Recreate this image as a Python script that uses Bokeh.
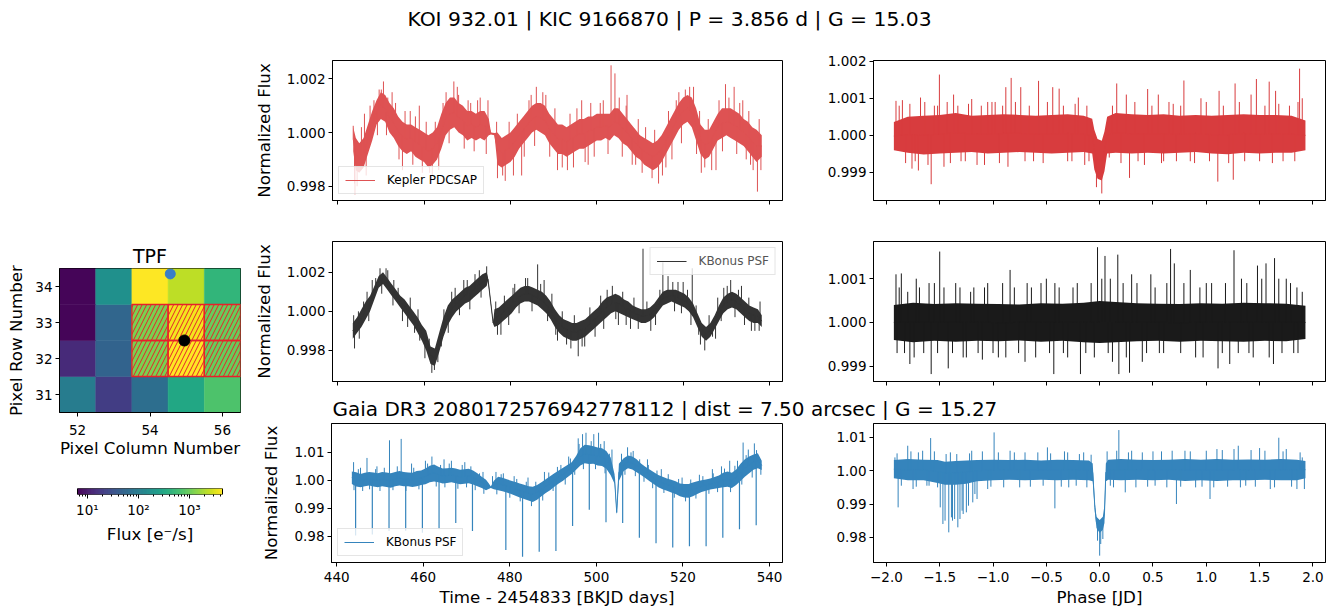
import numpy as np
from bokeh.plotting import figure
from bokeh.layouts import row, column
from bokeh.models import (Range1d, FixedTicker, PrintfTickFormatter, CustomJSTickFormatter,
                          Legend, LegendItem, ColumnDataSource, Spacer)
from bokeh.transform import log_cmap
from bokeh.palettes import Viridis256
from bokeh.core.properties import value
from bokeh.embed import file_html
from bokeh.resources import INLINE

FONT = "DejaVu Sans"

# ---------------- texts ----------------
MAIN_TITLE = "KOI 932.01 | KIC 9166870 | P = 3.856 d | G = 15.03"
GAIA_TITLE = "Gaia DR3 2080172576942778112 | dist = 7.50 arcsec | G = 15.27"

# ---------------- TPF ----------------
tpf_cols = [52, 53, 54, 55, 56]
tpf_rows = [31, 32, 33, 34]
tpf_flux = [
    [100, 21, 68, 320, 710],      # row 31
    [14, 51, 1200, 4400, 980],    # row 32
    [7, 55, 1200, 4000, 980],     # row 33
    [7, 170, 4400, 2300, 480],    # row 34
]
aperture_cols = [54, 55, 56, 54, 55, 56]
aperture_rows = [32, 32, 32, 33, 33, 33]
target_col = [54.95]
target_row = [32.50]
gaia_col = [54.56]
gaia_row = [34.35]
flux_low, flux_high = 6.4, 4436.0
cbar_major = [10, 100, 1000]
cbar_minor = [7, 8, 9, 20, 30, 40, 50, 60, 70, 80, 90,
              200, 300, 400, 500, 600, 700, 800, 900, 2000, 3000, 4000]

# ---------------- Kepler PDCSAP (time) ----------------
t_pdc = [443.6, 444.2, 445.0, 446.0, 447.0, 448.0, 449.0, 450.0, 451.0, 452.0,
         453.0, 454.0, 455.0, 456.0, 457.0, 458.0, 459.0, 460.0, 461.0, 462.0,
         463.0, 464.0, 465.0, 466.0, 467.0, 468.0, 469.0, 470.0, 471.0, 472.0,
         473.0, 474.0, 475.0, 475.5, 476.3, 477.0, 478.0, 479.0, 480.0, 481.0,
         482.0, 483.0, 484.0, 485.0, 486.0, 487.0, 488.0, 489.0, 490.0, 491.0,
         492.0, 493.0, 494.0, 495.0, 496.0, 497.0, 498.0, 499.0, 500.0, 501.0,
         502.0, 503.0, 504.0, 505.0, 506.0, 507.0, 508.0, 509.0, 510.0, 511.0,
         512.0, 513.0, 514.0, 515.0, 516.0, 517.0, 518.0, 519.0, 520.0, 521.0,
         522.0, 523.0, 524.0, 525.0, 526.0, 527.0, 528.0, 529.0, 530.0, 531.0,
         532.0, 533.0, 534.0, 535.0, 536.0, 537.0, 538.2]
lo_pdc = [0.9993, 0.9986, 0.9985, 0.9987, 0.9992, 0.9997, 1.0003, 1.0005, 1.0004, 1.0000,
          0.9998, 0.9995, 0.9993, 0.9992, 0.9993, 0.9991, 0.9990, 0.9989, 0.9987, 0.9988,
          0.9990, 0.9994, 0.9999, 1.0001, 1.0002, 1.0000, 0.9999, 0.9997, 0.9998, 0.9997,
          0.9998, 0.9997, 0.9999, 0.99993, 0.99990, 0.9988, 0.9987, 0.9988, 0.9989, 0.9991,
          0.9994, 0.9996, 0.9998, 1.0000, 1.0001, 1.0000, 0.9999, 0.9996, 0.9994, 0.9992,
          0.9992, 0.9991, 0.9992, 0.9993, 0.9994, 0.9994, 0.9995, 0.9996, 0.9997, 0.9997,
          0.9998, 0.9997, 0.9999, 0.9998, 0.9996, 0.9995, 0.9993, 0.9991, 0.9990, 0.9988,
          0.9987, 0.9986, 0.9987, 0.9989, 0.9992, 0.9995, 0.9998, 1.0001, 1.0003, 1.0004,
          1.0002, 0.9997, 0.9992, 0.9990, 0.9991, 0.9994, 0.9997, 0.9998, 0.9999, 0.9998,
          0.9997, 0.9996, 0.9995, 0.9993, 0.9991, 0.9989, 0.9991]
hi_pdc = [1.0002, 0.9998, 0.9996, 0.9998, 1.0003, 1.0008, 1.0012, 1.0015, 1.0014, 1.0011,
          1.0009, 1.0006, 1.0004, 1.0003, 1.0003, 1.0002, 1.0001, 1.0000, 0.9999, 1.0000,
          1.0002, 1.0007, 1.0011, 1.0013, 1.0013, 1.0011, 1.0010, 1.0008, 1.0008, 1.0007,
          1.0008, 1.0008, 1.0005, 1.00000, 0.99998, 1.0000, 0.9998, 0.9999, 1.0000, 1.0002,
          1.0004, 1.0006, 1.0008, 1.0010, 1.0011, 1.0011, 1.0010, 1.0007, 1.0005, 1.0003,
          1.0003, 1.0002, 1.0003, 1.0004, 1.0005, 1.0005, 1.0006, 1.0006, 1.0007, 1.0007,
          1.0007, 1.0007, 1.0009, 1.0009, 1.0007, 1.0005, 1.0003, 1.0001, 0.9999, 0.9998,
          0.9997, 0.9996, 0.9997, 0.9999, 1.0002, 1.0005, 1.0008, 1.0011, 1.0013, 1.0014,
          1.0013, 1.0009, 1.0003, 1.0001, 1.0001, 1.0004, 1.0007, 1.0009, 1.0009, 1.0009,
          1.0008, 1.0007, 1.0005, 1.0004, 1.0002, 1.0001, 0.9999]
spk_t_pdc = [443.6, 444.0, 444.5, 446.2, 447.5, 449.6, 450.1, 451.6, 453.4, 455.0,
             456.8, 458.9, 461.3, 461.9, 464.4, 466.9, 468.0, 470.8, 473.0, 477.0,
             478.2, 482.6, 484.3, 486.0, 487.5, 490.9, 493.2, 496.5, 498.0, 500.8,
             503.3, 504.2, 507.0, 509.0, 512.8, 514.3, 516.0, 519.0, 520.5, 521.5,
             524.2, 525.0, 527.6, 529.8, 531.8, 533.8, 535.6, 537.2]
spk_f_pdc = [1.00025, 0.9977, 0.9980, 1.0007, 1.0010, 1.0016, 1.0016, 1.0013, 1.0011, 0.9986,
             1.0008, 1.0010, 0.9985, 0.9984, 1.0011, 1.0019, 1.0014, 1.0011, 1.0013, 0.9983,
             0.9984, 0.9984, 1.0012, 1.0017, 1.0015, 0.9986, 0.9986, 1.0012, 0.9988, 1.0011,
             1.0025, 1.0022, 1.0014, 0.9988, 0.9983, 0.9981, 0.9987, 1.0015, 1.0016, 1.0017,
             0.9985, 0.9987, 0.9986, 1.0018, 1.0017, 1.0012, 0.9988, 0.9978]
small_spk_pdc = [(443.9, 0.9981), (445.5, 1.0002), (446.6, 0.9984), (448.4, 1.0012), (449.2, 0.9999),
                 (450.6, 1.0019), (451.3, 0.9999), (452.6, 1.0015), (454.2, 0.9990), (455.6, 1.0008),
                 (457.4, 0.9988), (458.0, 1.0006), (459.6, 0.9985), (460.5, 1.0004), (462.6, 1.0004),
                 (463.4, 0.9986), (465.1, 1.0015), (465.8, 0.9996), (467.7, 1.0017), (469.3, 0.9994),
                 (470.2, 1.0012), (471.6, 0.9993), (472.4, 1.0012), (474.4, 0.9992), (474.8, 1.0012),
                 (476.8, 1.0004), (478.8, 0.9982), (479.7, 1.0004), (480.7, 0.9984), (481.6, 1.0007),
                 (483.2, 0.9991), (484.8, 1.0014), (485.6, 0.9995), (488.2, 1.0014), (489.1, 0.9991),
                 (490.3, 1.0009), (492.0, 0.9987), (493.8, 1.0007), (494.6, 0.9987), (495.4, 1.0009),
                 (497.3, 0.9989), (498.6, 1.0011), (499.4, 0.9991), (501.5, 1.0012), (502.6, 0.9992),
                 (505.2, 1.0013), (505.9, 0.9991), (506.8, 1.0010), (508.2, 0.9988), (509.6, 1.0005),
                 (510.5, 0.9985), (511.3, 1.0002), (513.4, 1.0001), (515.2, 0.9984), (516.6, 1.0008),
                 (517.4, 0.9990), (518.4, 1.0012), (519.6, 0.9996), (522.4, 1.0017), (523.1, 0.9992),
                 (523.8, 1.0008), (525.8, 1.0005), (526.6, 0.9986), (528.3, 1.0012), (529.1, 0.9993),
                 (530.6, 1.0013), (532.4, 0.9992), (533.1, 1.0011), (534.6, 0.9990), (535.2, 1.0008),
                 (536.2, 0.9986), (537.6, 1.0005), (538.0, 0.9986)]

# ---------------- KBonus PSF, target (time) ----------------
t_psf = [443.5, 444.5, 445.5, 446.5, 447.5, 448.5, 449.5, 450.5, 451.5, 452.5,
         453.5, 454.5, 455.5, 456.5, 457.5, 458.5, 459.5, 460.5, 461.5, 462.5,
         463.5, 464.5, 465.5, 466.5, 467.5, 468.5, 469.5, 470.5, 471.5, 472.5,
         473.5, 474.5, 474.8, 476.0, 476.3, 477.3, 478.3, 479.3, 480.3, 481.3,
         482.3, 483.3, 484.3, 485.3, 486.3, 487.3, 488.3, 489.3, 490.3, 491.3,
         492.3, 493.3, 494.3, 495.3, 496.3, 497.3, 498.3, 499.3, 500.3, 501.3,
         502.3, 503.3, 504.3, 505.3, 506.3, 507.3, 508.3, 509.3, 510.3, 511.3,
         512.3, 513.3, 514.3, 515.3, 516.3, 517.3, 518.3, 519.3, 520.3, 521.3,
         522.3, 523.3, 524.3, 525.3, 526.3, 527.3, 528.3, 529.3, 530.3, 531.3,
         532.3, 533.3, 534.3, 535.3, 536.3, 537.3, 538.2]
lo_psf = [0.9986, 0.9989, 0.9992, 0.9996, 1.0000, 1.0006, 1.0012, 1.0014, 1.0011, 1.0008,
          1.0005, 1.0002, 0.9999, 0.9996, 0.9993, 0.9989, 0.9985, 0.9980, 0.9973, 0.9972,
          0.9979, 0.9987, 0.9993, 0.9997, 1.0000, 1.0002, 1.0004, 1.0005, 1.0007, 1.0009,
          1.0011, 1.0013, 1.00155, 0.99935, 0.9992, 0.9993, 0.9995, 0.9997, 0.9999, 1.0002,
          1.0004, 1.0005, 1.0005, 1.0004, 1.0003, 1.0001, 0.9999, 0.9996, 0.9992, 0.9989,
          0.9987, 0.9986, 0.9985, 0.9985, 0.9986, 0.9987, 0.9989, 0.9991, 0.9993, 0.9995,
          0.9997, 0.9999, 1.0000, 0.9999, 0.9998, 0.9997, 0.9996, 0.9995, 0.9994, 0.9994,
          0.9995, 0.9997, 1.0000, 1.0003, 1.0004, 1.0005, 1.0004, 1.0003, 1.0002, 1.0000,
          0.9997, 0.9992, 0.9987, 0.9985, 0.9987, 0.9991, 0.9995, 0.9999, 1.0001, 1.0002,
          1.0001, 0.9999, 0.9997, 0.9995, 0.9994, 0.9994, 0.9992]
hi_psf = [0.9994, 0.9997, 1.0001, 1.0005, 1.0008, 1.0013, 1.0018, 1.0020, 1.0017, 1.0014,
          1.0011, 1.0008, 1.0006, 1.0003, 1.0000, 0.9997, 0.9993, 0.9990, 0.9982, 0.9981,
          0.9989, 0.9997, 1.0003, 1.0006, 1.0008, 1.0010, 1.0012, 1.0013, 1.0015, 1.0017,
          1.0019, 1.0020, 1.00175, 0.99945, 1.0001, 1.0002, 1.0004, 1.0006, 1.0008, 1.0010,
          1.0012, 1.0013, 1.0013, 1.0012, 1.0011, 1.0010, 1.0008, 1.0005, 1.0001, 0.9998,
          0.9996, 0.9995, 0.9994, 0.9994, 0.9995, 0.9996, 0.9998, 1.0000, 1.0002, 1.0005,
          1.0007, 1.0008, 1.0009, 1.0008, 1.0006, 1.0005, 1.0003, 1.0002, 1.0001, 1.0001,
          1.0002, 1.0004, 1.0007, 1.0010, 1.0011, 1.0011, 1.0011, 1.0010, 1.0009, 1.0007,
          1.0004, 0.9999, 0.9994, 0.9992, 0.9994, 0.9998, 1.0003, 1.0007, 1.0009, 1.0010,
          1.0009, 1.0007, 1.0005, 1.0003, 1.0002, 1.0001, 0.9998]
spk_t_psf = [443.9, 444.8, 446.8, 448.0, 449.8, 451.2, 453.0, 456.2, 459.0, 461.8,
             462.4, 464.0, 467.2, 470.0, 472.8, 474.5, 477.8, 480.6, 483.5, 486.3,
             487.8, 490.5, 493.0, 495.7, 497.2, 500.9, 502.4, 505.0, 507.8, 510.7,
             512.5, 515.3, 516.5, 518.8, 520.0, 522.1, 523.6, 525.0, 527.5, 529.4,
             531.0, 533.5, 535.8, 537.6]
spk_f_psf = [0.9981, 1.0000, 1.0010, 1.0016, 1.0022, 1.0022, 1.0016, 0.9992, 0.9985, 0.99685,
             0.9970, 0.9982, 1.0012, 1.0016, 1.0021, 1.0023, 0.9988, 1.0012, 1.0017, 1.0024,
             1.0016, 0.9988, 0.9983, 0.9977, 0.9982, 1.0008, 1.0011, 0.9993, 0.9991, 1.0032,
             0.9990, 1.0025, 1.0018, 1.0015, 1.0015, 1.0022, 0.9988, 0.9980, 0.9986, 1.0012,
             1.0016, 1.0013, 0.9990, 0.9990]
small_spk_psf = [(443.7, 0.9998), (445.0, 0.9986), (446.0, 1.0005), (447.2, 0.9995), (448.8, 1.0017),
                 (450.2, 1.0009), (451.6, 1.0021), (452.8, 1.0003), (454.0, 1.0012), (455.0, 0.9995),
                 (456.8, 1.0007), (457.8, 0.9989), (458.6, 1.0001), (460.2, 0.9976), (461.2, 0.9986),
                 (463.2, 0.9974), (464.6, 1.0001), (465.6, 0.9989), (466.4, 1.0010), (468.2, 0.9998),
                 (469.2, 1.0016), (470.6, 1.0001), (471.8, 1.0019), (473.2, 1.0007), (476.6, 1.0005),
                 (477.0, 0.9988), (478.6, 1.0008), (479.6, 0.9993), (481.0, 1.0014), (482.0, 0.9999),
                 (484.0, 1.0017), (485.0, 1.0000), (487.0, 1.0014), (488.6, 0.9995), (489.6, 1.0009),
                 (490.9, 0.9985), (492.0, 1.0000), (494.0, 0.9981), (494.8, 0.9998), (496.6, 0.9982),
                 (498.4, 1.0002), (499.6, 0.9987), (501.6, 0.9991), (503.6, 1.0013), (504.4, 0.9996),
                 (506.0, 1.0010), (506.8, 0.9993), (508.6, 1.0007), (509.6, 0.9991), (511.6, 1.0005),
                 (513.6, 0.9993), (514.6, 1.0011), (517.6, 1.0015), (518.0, 1.0000), (519.6, 0.9999),
                 (521.0, 1.0011), (521.8, 0.9993), (523.0, 1.0003), (524.0, 0.9983), (526.0, 0.9998),
                 (526.8, 0.9987), (528.0, 1.0007), (528.8, 0.9995), (530.2, 1.0013), (532.0, 0.9997),
                 (532.8, 1.0011), (534.2, 0.9993), (535.2, 1.0007), (536.6, 0.9990), (537.8, 1.0005)]

# ---------------- KBonus PSF, Gaia neighbour (time) ----------------
t_gaia = [443.5, 444.5, 445.5, 446.5, 447.5, 448.5, 449.5, 450.5, 451.5, 452.5,
          453.5, 454.5, 455.5, 456.5, 457.5, 458.5, 459.5, 460.5, 461.5, 462.5,
          463.5, 464.5, 465.5, 466.5, 467.5, 468.5, 469.5, 470.5, 471.5, 472.5,
          473.5, 474.5, 475.2, 475.6, 476.3, 477.3, 478.3, 479.3, 480.3, 481.3,
          482.3, 483.3, 484.3, 485.3, 486.3, 487.3, 488.3, 489.3, 490.3, 491.3,
          492.3, 493.3, 494.3, 495.3, 496.3, 497.3, 498.3, 499.3, 500.3, 501.3,
          502.3, 503.3, 504.2, 504.7, 505.2, 506.3, 507.3, 508.3, 509.3, 510.3,
          511.3, 512.3, 513.3, 514.3, 515.3, 516.3, 517.3, 518.3, 519.3, 520.3,
          521.3, 522.3, 523.3, 524.3, 525.3, 526.3, 527.3, 528.3, 529.3, 530.3,
          531.3, 532.3, 533.3, 534.3, 535.3, 536.3, 537.3, 538.2]
lo_gaia = [0.9987, 0.9978, 0.9975, 0.9979, 0.9982, 0.9978, 0.9975, 0.9979, 0.9976, 0.9974,
           0.9979, 0.9982, 0.9979, 0.9979, 0.9976, 0.9979, 0.9983, 0.9986, 0.9993, 0.9996,
           0.9993, 0.9989, 0.9991, 0.9993, 0.9990, 0.9986, 0.9988, 0.9990, 0.9985, 0.9979,
           0.9973, 0.9965, 0.9970, 0.9973, 0.9968, 0.9965, 0.9961, 0.9957, 0.9951, 0.9945,
           0.9939, 0.9933, 0.9928, 0.9923, 0.9931, 0.9943, 0.9955, 0.9965, 0.9977, 0.9989,
           0.9999, 1.0011, 1.0023, 1.0038, 1.0053, 1.0061, 1.0058, 1.0059, 1.0053, 1.0051,
           1.0041, 1.0018, 0.9988, 0.9877, 0.9998, 1.0033, 1.0043, 1.0039, 1.0029, 1.0019,
           1.0008, 0.9997, 0.9986, 0.9975, 0.9968, 0.9963, 0.9957, 0.9951, 0.9943, 0.9939,
           0.9938, 0.9943, 0.9951, 0.9958, 0.9963, 0.9967, 0.9970, 0.9973, 0.9975, 0.9977,
           0.9973, 0.9983, 0.9998, 1.0013, 1.0025, 1.0038, 1.0043, 1.0037]
hi_gaia = [1.0032, 1.0029, 1.0023, 1.0027, 1.0030, 1.0028, 1.0025, 1.0030, 1.0028, 1.0025,
           1.0030, 1.0033, 1.0030, 1.0028, 1.0027, 1.0033, 1.0035, 1.0042, 1.0052, 1.0057,
           1.0049, 1.0042, 1.0043, 1.0045, 1.0042, 1.0038, 1.0040, 1.0041, 1.0035, 1.0025,
           1.0013, 1.0002, 0.9988, 0.9978, 0.9999, 1.0013, 1.0009, 1.0004, 0.9999, 0.9994,
           0.9989, 0.9984, 0.9979, 0.9977, 0.9983, 0.9993, 1.0004, 1.0015, 1.0025, 1.0035,
           1.0045, 1.0055, 1.0065, 1.0087, 1.0115, 1.0127, 1.0125, 1.0122, 1.0117, 1.0115,
           1.0105, 1.0082, 1.0022, 0.9893, 1.0059, 1.0079, 1.0089, 1.0085, 1.0075, 1.0060,
           1.0049, 1.0039, 1.0029, 1.0019, 1.0013, 1.0007, 1.0002, 0.9997, 0.9989, 0.9987,
           0.9987, 0.9992, 0.9997, 1.0000, 1.0003, 1.0007, 1.0012, 1.0017, 1.0027, 1.0032,
           1.0027, 1.0039, 1.0059, 1.0075, 1.0085, 1.0092, 1.0097, 1.0070]
dip_t_gaia = [444.37, 448.23, 452.09, 455.94, 459.80, 463.65, 467.51, 471.37, 479.08, 482.94,
              486.79, 490.65, 494.50, 498.36, 502.22, 506.07, 509.93, 513.78, 517.64, 521.50,
              525.35, 529.21, 533.06, 536.92]
dip_f_gaia = [0.9803, 0.9807, 0.9819, 0.9820, 0.9813, 0.9825, 0.9848, 0.9819, 0.9751, 0.9727,
              0.9745, 0.9748, 0.9837, 0.9895, 0.9850, 0.9848, 0.9795, 0.9775, 0.9760, 0.9765,
              0.9765, 0.9795, 0.9825, 0.9840]
spk_t_gaia = [443.9, 445.5, 447.0, 449.3, 452.2, 454.9, 457.3, 460.5, 462.0, 464.8,
              466.5, 469.6, 473.8, 476.8, 478.5, 481.0, 484.2, 488.0, 491.8, 493.6,
              495.8, 496.8, 497.6, 499.4, 500.5, 501.8, 503.6, 507.2, 508.5, 511.8,
              515.0, 519.8, 523.8, 526.8, 528.9, 530.8, 532.6, 533.9, 535.1, 536.5]
spk_f_gaia = [1.0065, 1.0045, 1.0080, 1.0050, 1.0143, 1.0148, 1.0060, 1.0070, 1.0085, 1.0075,
              1.0070, 1.0065, 1.0030, 1.0030, 1.0025, 1.0015, 1.0010, 1.0030, 1.0055, 1.0085,
              1.0150, 1.0165, 1.0170, 1.0165, 1.0170, 1.0140, 1.0110, 1.0118, 1.0105, 1.0075,
              1.0040, 1.0010, 1.0020, 1.0040, 1.0050, 1.0070, 1.0070, 1.0135, 1.0110, 1.0132]
small_spk_gaia = [(444.0, 0.9965), (445.0, 1.0040), (446.0, 0.9962), (447.6, 0.9968), (449.0, 1.0040),
                  (450.0, 0.9962), (451.0, 1.0045), (453.0, 0.9965), (454.0, 1.0050), (456.0, 0.9962),
                  (457.8, 1.0045), (459.0, 0.9968), (461.0, 1.0060), (463.0, 0.9978), (464.0, 1.0055),
                  (465.0, 0.9975), (466.0, 1.0060), (468.0, 0.9970), (469.0, 1.0055), (470.0, 0.9975),
                  (471.0, 1.0050), (472.0, 0.9965), (473.0, 1.0025), (474.0, 0.9952), (476.0, 1.0015),
                  (477.0, 0.9950), (478.0, 1.0022), (480.0, 0.9938), (481.6, 1.0005), (482.4, 0.9925),
                  (483.8, 0.9995), (485.0, 0.9908), (486.0, 0.9995), (487.6, 0.9928), (489.0, 1.0028),
                  (490.0, 0.9962), (491.0, 1.0048), (492.8, 0.9985), (494.0, 1.0078), (495.0, 1.0020),
                  (496.0, 1.0130), (497.0, 1.0040), (498.8, 1.0140), (499.8, 1.0040), (501.0, 1.0130),
                  (502.0, 1.0025), (503.0, 1.0095), (505.8, 1.0095), (506.6, 1.0020), (508.0, 1.0100),
                  (509.0, 1.0015), (510.0, 1.0075), (511.0, 0.9995), (512.0, 1.0055), (513.0, 0.9972),
                  (514.0, 1.0035), (515.6, 0.9955), (516.6, 1.0022), (518.0, 0.9938), (519.0, 1.0005),
                  (520.6, 0.9925), (521.8, 1.0003), (523.0, 0.9935), (524.6, 1.0015), (526.0, 0.9952),
                  (527.0, 1.0025), (528.0, 0.9958), (529.6, 1.0042), (531.0, 0.9958), (532.0, 1.0052),
                  (533.6, 0.9985), (534.6, 1.0090), (536.0, 1.0010), (537.0, 1.0108), (538.0, 1.0020)]

# ---------------- phase-folded: Kepler PDCSAP ----------------
ph_pdc = [-1.93, -1.80, -1.65, -1.50, -1.35, -1.20, -1.05, -0.90, -0.75, -0.60,
          -0.45, -0.30, -0.15, -0.07, -0.05, -0.02, 0.02, 0.045, 0.07, 0.15,
          0.30, 0.45, 0.60, 0.75, 0.90, 1.05, 1.20, 1.35, 1.50, 1.65, 1.80, 1.93]
ph_lo_pdc = [0.99960, 0.99953, 0.99948, 0.99951, 0.99953, 0.99955, 0.99951, 0.99953, 0.99955, 0.99953,
             0.99951, 0.99953, 0.99955, 0.99951, 0.99908, 0.99883, 0.99878, 0.99903, 0.99951, 0.99953,
             0.99951, 0.99953, 0.99951, 0.99953, 0.99955, 0.99951, 0.99949, 0.99953, 0.99951, 0.99953,
             0.99953, 0.99960]
ph_hi_pdc = [1.00036, 1.00050, 1.00053, 1.00055, 1.00060, 1.00053, 1.00055, 1.00057, 1.00055, 1.00053,
             1.00055, 1.00057, 1.00053, 1.00045, 1.00015, 0.99990, 0.99985, 1.00010, 1.00050, 1.00060,
             1.00057, 1.00055, 1.00057, 1.00053, 1.00055, 1.00053, 1.00055, 1.00057, 1.00055, 1.00055,
             1.00053, 1.00040]
pspk_x_pdc = [-1.91, -1.85, -1.76, -1.70, -1.68, -1.58, -1.55, -1.503, -1.46, -1.37,
              -1.30, -1.20, -1.15, -1.05, -0.98, -0.88, -0.86, -0.83, -0.74, -0.62,
              -0.573, -0.44, -0.38, -0.30, -0.20, -0.10, -0.03, 0.02, 0.16, 0.25,
              0.28, 0.42, 0.45, 0.55, 0.60, 0.65, 0.79, 0.85, 0.95, 1.108,
              1.12, 1.253, 1.27, 1.42, 1.47, 1.50, 1.59, 1.65, 1.72, 1.875, 1.90]
pspk_f_pdc = [1.00093, 1.00095, 0.99910, 0.99905, 1.00102, 0.99868, 1.00080, 1.00164, 0.99915, 1.00110,
              0.99930, 1.00098, 0.99920, 1.00090, 1.00090, 1.00130, 0.99915, 1.00155, 1.00130, 0.99930,
              1.00147, 1.00130, 1.00126, 0.99930, 1.00102, 0.99930, 0.99860, 0.99843, 1.00140, 1.00110,
              0.99885, 0.99920, 1.00125, 1.00110, 0.99930, 1.00090, 1.00148, 0.99930, 1.00100, 0.99875,
              1.00120, 0.99880, 1.00140, 1.00110, 1.00152, 0.99930, 1.00145, 1.00120, 0.99930, 1.00180,
              1.00100]
small_pspk_pdc = [(-1.88, 1.0008), (-1.82, 0.99925), (-1.78, 1.00085), (-1.73, 0.9993), (-1.64, 1.0009),
                  (-1.61, 0.9992), (-1.52, 1.0008), (-1.43, 1.0009), (-1.40, 0.99925), (-1.33, 1.0008),
                  (-1.26, 0.9993), (-1.23, 1.00085), (-1.11, 1.0008), (-1.08, 0.9992), (-1.01, 1.0009),
                  (-0.94, 0.99925), (-0.91, 1.0008), (-0.79, 1.0009), (-0.70, 0.9993), (-0.66, 1.0008),
                  (-0.53, 0.99925), (-0.49, 1.0009), (-0.34, 1.0008), (-0.26, 0.9993), (-0.23, 1.00085),
                  (-0.14, 0.9992), (-0.12, 1.0008), (0.09, 0.9994), (0.12, 1.0008), (0.20, 0.99925),
                  (0.33, 1.0009), (0.36, 0.9993), (0.49, 1.0008), (0.58, 0.99925), (0.69, 1.00085),
                  (0.72, 0.9993), (0.76, 1.0008), (0.89, 0.99925), (1.00, 1.0009), (1.03, 0.9993),
                  (1.16, 1.0008), (1.21, 0.99925), (1.31, 1.0009), (1.36, 0.9993), (1.55, 1.0008),
                  (1.62, 0.99925), (1.68, 1.00085), (1.78, 1.0008), (1.83, 0.9993), (1.86, 1.0009)]

# ---------------- phase-folded: KBonus PSF target ----------------
ph_psf = [-1.93, -1.75, -1.55, -1.35, -1.15, -0.95, -0.75, -0.55, -0.35, -0.15,
          0.0, 0.15, 0.35, 0.55, 0.75, 0.95, 1.15, 1.35, 1.55, 1.75, 1.93]
ph_lo_psf = [0.99960, 0.99955, 0.99958, 0.99956, 0.99958, 0.99957, 0.99959, 0.99956, 0.99958, 0.99955,
             0.99953, 0.99955, 0.99957, 0.99958, 0.99956, 0.99958, 0.99957, 0.99956, 0.99958, 0.99957,
             0.99962]
ph_hi_psf = [1.00040, 1.00045, 1.00042, 1.00044, 1.00043, 1.00042, 1.00041, 1.00044, 1.00043, 1.00045,
             1.00049, 1.00047, 1.00044, 1.00043, 1.00042, 1.00044, 1.00043, 1.00045, 1.00044, 1.00043,
             1.00038]
pspk_x_psf = [-1.91, -1.90, -1.86, -1.78, -1.72, -1.60, -1.58, -1.50, -1.42, -1.35,
              -1.25, -1.18, -1.10, -1.05, -0.95, -0.84, -0.70, -0.68, -0.50, -0.43,
              -0.42, -0.30, -0.25, -0.18, -0.02, 0.05, 0.12, 0.17, 0.18, 0.28,
              0.30, 0.40, 0.48, 0.60, 0.665, 0.70, 0.85, 0.90, 1.00, 1.11,
              1.22, 1.26, 1.38, 1.40, 1.48, 1.56, 1.63, 1.64, 1.75, 1.85, 1.86]
pspk_f_psf = [1.00110, 0.99930, 1.00112, 0.99905, 1.00100, 1.00090, 0.99882, 1.00162, 0.99895, 1.00090,
              0.99920, 1.00080, 0.99915, 1.00090, 0.99920, 1.00120, 0.99910, 1.00090, 1.00100, 0.99882,
              1.00090, 0.99920, 1.00080, 0.99882, 1.00172, 1.00152, 0.99910, 1.00155, 0.99882, 0.99885,
              1.00110, 0.99910, 1.00110, 0.99930, 1.00168, 1.00135, 1.00120, 0.99920, 1.00090, 0.99895,
              0.99905, 1.00165, 1.00090, 0.99930, 1.00130, 1.00135, 0.99905, 1.00147, 1.00100, 1.00080,
              0.99930]
small_pspk_psf = [(-1.88, 1.0008), (-1.83, 0.9993), (-1.80, 1.0007), (-1.74, 0.9992), (-1.69, 1.0008),
                  (-1.65, 0.9993), (-1.55, 1.0009), (-1.52, 0.9993), (-1.46, 1.0008), (-1.38, 0.9993),
                  (-1.31, 1.0008), (-1.28, 0.9992), (-1.21, 1.0007), (-1.14, 0.9993), (-1.08, 1.0008),
                  (-1.00, 0.9993), (-0.91, 1.0009), (-0.88, 0.9992), (-0.80, 1.0008), (-0.76, 0.9993),
                  (-0.64, 1.0008), (-0.60, 0.9992), (-0.55, 1.0009), (-0.47, 0.9993), (-0.38, 1.0008),
                  (-0.34, 0.9993), (-0.21, 1.0009), (-0.13, 0.9993), (-0.08, 1.0009), (-0.05, 0.9992),
                  (0.02, 1.0010), (0.08, 0.9993), (0.10, 1.0010), (0.22, 1.0009), (0.25, 0.9992),
                  (0.35, 1.0009), (0.44, 0.9993), (0.52, 1.0008), (0.56, 0.9993), (0.63, 1.0009),
                  (0.76, 0.9993), (0.79, 1.0009), (0.94, 1.0008), (0.97, 0.9992), (1.05, 1.0009),
                  (1.15, 0.9993), (1.18, 1.0009), (1.30, 0.9993), (1.33, 1.0010), (1.44, 0.9992),
                  (1.52, 1.0010), (1.59, 0.9992), (1.68, 1.0010), (1.71, 0.9993), (1.79, 1.0009),
                  (1.82, 0.9993), (1.90, 1.0007)]

# ---------------- phase-folded: KBonus PSF Gaia neighbour ----------------
ph_gaia = [-1.93, -1.80, -1.65, -1.52, -1.45, -1.35, -1.25, -1.15, -1.00, -0.85,
           -0.70, -0.55, -0.40, -0.25, -0.10, -0.065, -0.045, -0.03, 0.00, 0.03,
           0.045, 0.058, 0.08, 0.20, 0.35, 0.50, 0.65, 0.80, 0.95, 1.10,
           1.25, 1.40, 1.55, 1.70, 1.85, 1.93]
ph_lo_gaia = [0.9977, 0.9971, 0.9971, 0.9963, 0.9958, 0.9958, 0.9961, 0.9968, 0.9971, 0.9973,
              0.9971, 0.9973, 0.9971, 0.9973, 0.9971, 0.9968, 0.9877, 0.9828, 0.9813, 0.9823,
              0.9843, 0.9968, 0.9973, 0.9971, 0.9973, 0.9971, 0.9973, 0.9969, 0.9971, 0.9969,
              0.9971, 0.9971, 0.9973, 0.9971, 0.9971, 0.9977]
ph_hi_gaia = [1.0032, 1.0035, 1.0033, 1.0032, 1.0027, 1.0029, 1.0031, 1.0032, 1.0033, 1.0032,
              1.0033, 1.0031, 1.0033, 1.0032, 1.0031, 1.0022, 0.9903, 0.9862, 0.9852, 0.9862,
              0.9897, 1.0022, 1.0033, 1.0035, 1.0033, 1.0032, 1.0033, 1.0035, 1.0033, 1.0035,
              1.0033, 1.0034, 1.0033, 1.0035, 1.0033, 1.0029]
pspk_x_gaia = [-1.92, -1.89, -1.80, -1.75, -1.70, -1.60, -1.585, -1.495, -1.47, -1.45,
               -1.415, -1.40, -1.39, -1.36, -1.33, -1.31, -1.28, -1.25, -1.23, -1.20,
               -1.19, -1.15, -1.05, -0.99, -0.80, -0.75, -0.49, -0.42, -0.30, -0.29,
               -0.15, -0.02, 0.00, 0.01, 0.03, 0.10, 0.18, 0.24, 0.30, 0.50,
               0.52, 0.72, 0.80, 0.90, 1.035, 1.10, 1.30, 1.32, 1.50, 1.60,
               1.68, 1.75, 1.85, 1.90, 1.92]
pspk_f_gaia = [1.0040, 0.9890, 1.0075, 0.9945, 1.0055, 0.9955, 1.0098, 0.9890, 0.9840, 0.9850,
               0.9815, 1.0055, 0.9860, 0.9855, 0.9830, 0.9855, 0.9870, 0.9875, 0.9895, 1.0060,
               0.9905, 0.9915, 0.9945, 1.0115, 1.0055, 0.9950, 1.0070, 0.9887, 1.0055, 0.9950,
               1.0055, 0.9790, 0.9745, 0.9780, 0.9795, 0.9955, 1.0122, 0.9935, 1.0060, 1.0058,
               0.9955, 0.9900, 1.0060, 0.9950, 0.9915, 1.0065, 1.0075, 0.9950, 1.0068, 0.9945,
               1.0099, 1.0065, 0.9945, 1.0040, 0.9945]
small_pspk_gaia = [(-1.90, 1.0052), (-1.86, 0.9955), (-1.77, 1.0058), (-1.72, 0.9952), (-1.66, 1.0060),
                   (-1.62, 0.9955), (-1.55, 1.0058), (-1.52, 0.9950), (-1.44, 1.0050), (-1.38, 0.9850),
                   (-1.34, 1.0050), (-1.29, 0.9880), (-1.22, 1.0052), (-1.17, 0.9930), (-1.10, 1.0058),
                   (-1.02, 0.9952), (-0.95, 1.0055), (-0.90, 0.9950), (-0.84, 1.0060), (-0.70, 1.0055),
                   (-0.65, 0.9952), (-0.58, 1.0055), (-0.53, 0.9955), (-0.46, 1.0052), (-0.36, 0.9952),
                   (-0.33, 1.0058), (-0.22, 0.9955), (-0.19, 1.0050), (-0.12, 0.9950), (-0.08, 1.0048),
                   (0.07, 1.0058), (0.13, 0.9950), (0.16, 1.0060), (0.27, 1.0055), (0.34, 0.9950),
                   (0.40, 1.0055), (0.45, 0.9952), (0.58, 1.0058), (0.63, 0.9950), (0.68, 1.0060),
                   (0.76, 0.9952), (0.85, 1.0058), (0.96, 0.9952), (1.00, 1.0060), (1.07, 0.9950),
                   (1.15, 1.0062), (1.20, 0.9952), (1.26, 1.0065), (1.37, 0.9955), (1.42, 1.0062),
                   (1.46, 0.9952), (1.55, 1.0060), (1.64, 0.9950), (1.72, 1.0058), (1.80, 0.9952),
                   (1.88, 1.0055)]

# ---------------- axes ----------------
time_ticks = [440, 460, 480, 500, 520, 540]
phase_ticks = [-2.0, -1.5, -1.0, -0.5, 0.0, 0.5, 1.0, 1.5, 2.0]
time_range = (438.8, 543.0)
phase_range = (-2.121, 2.118)

RED_T, RED_P = "#de5253", "#d83c3e"
BLK_T, BLK_P = "#333333", "#1a1a1a"
BLUE = "#3584bc"


def make_fig(width, height, xr, yr, bl, br, bt, bb, **kw):
    p = figure(width=width, height=height, x_range=Range1d(*xr), y_range=Range1d(*yr),
               output_backend="svg", toolbar_location=None, tools="",
               min_border_left=bl, min_border_right=br, min_border_top=bt,
               min_border_bottom=bb, **kw)
    p.outline_line_color = "black"
    p.outline_line_width = 1
    p.background_fill_color = "white"
    p.border_fill_color = "white"
    p.xgrid.visible = False
    p.ygrid.visible = False
    for ax in list(p.xaxis) + list(p.yaxis):
        ax.axis_line_color = "black"
        ax.major_tick_line_color = "black"
        ax.major_tick_in = 0
        ax.major_tick_out = 4
        ax.minor_tick_line_color = None
        ax.major_label_text_font = FONT
        ax.major_label_text_font_size = "13.5px"
        ax.major_label_text_color = "black"
        ax.major_label_standoff = 3
        ax.axis_label_text_font = FONT
        ax.axis_label_text_font_size = "16.7px"
        ax.axis_label_text_font_style = "normal"
        ax.axis_label_text_color = "black"
    return p


def hide_xlabels(p):
    p.xaxis.formatter = CustomJSTickFormatter(code="return '';")
    p.xaxis.major_label_text_font_size = "0px"


def draw_lc(p, x, lo, hi, sx, sf, extra, color):
    x = np.asarray(x, float)
    lo = np.asarray(lo, float)
    hi = np.asarray(hi, float)
    mid = (lo + hi) / 2
    p.varea(x=x, y1=lo, y2=hi, fill_color=color)
    r = p.line(x, mid, line_color=color, line_width=1)
    ex = [e[0] for e in extra]
    ef = [e[1] for e in extra]
    allx = list(sx) + ex
    allf = list(sf) + ef
    smid = np.interp(allx, x, mid)
    p.segment(x0=allx, y0=smid, x1=allx, y1=allf, line_color=color, line_width=1)
    return r


def add_legend(p, label, r, loc, text_color="black"):
    leg = Legend(items=[LegendItem(label=label, renderers=[r])], location=loc)
    leg.label_text_font = FONT
    leg.label_text_font_size = "12px"
    leg.label_text_color = text_color
    leg.glyph_width = 30
    leg.glyph_height = 12
    leg.label_height = 12
    leg.label_standoff = 12
    leg.padding = 6
    leg.margin = 6
    leg.spacing = 0
    leg.border_line_color = "#cccccc"
    leg.border_line_width = 1
    leg.background_fill_color = "white"
    leg.background_fill_alpha = 0.8
    p.add_layout(leg)


def time_axes(p, yticks, fmt):
    p.xaxis.ticker = FixedTicker(ticks=time_ticks)
    p.yaxis.ticker = FixedTicker(ticks=yticks)
    p.yaxis.formatter = PrintfTickFormatter(format=fmt)
    p.yaxis.axis_label = "Normalized Flux"
    p.yaxis.axis_label_standoff = 10


def phase_axes(p, yticks, fmt):
    p.xaxis.ticker = FixedTicker(ticks=phase_ticks)
    p.yaxis.ticker = FixedTicker(ticks=yticks)
    p.yaxis.formatter = PrintfTickFormatter(format=fmt)


# ---------------- row 1 ----------------
m1 = make_fig(540, 164, time_range, (0.99747, 1.00268), 81, 8, 8, 16)
time_axes(m1, [0.998, 1.000, 1.002], "%.3f")
hide_xlabels(m1)
r = draw_lc(m1, t_pdc, lo_pdc, hi_pdc, spk_t_pdc, spk_f_pdc, small_spk_pdc, RED_T)
add_legend(m1, "Kepler PDCSAP", r, "bottom_left")

r1 = make_fig(540, 164, phase_range, (0.99824, 1.00202), 83, 5, 8, 16)
phase_axes(r1, [0.999, 1.000, 1.001, 1.002], "%.3f")
hide_xlabels(r1)
draw_lc(r1, ph_pdc, ph_lo_pdc, ph_hi_pdc, pspk_x_pdc, pspk_f_pdc, small_pspk_pdc, RED_P)

# ---------------- row 2 ----------------
m2 = make_fig(540, 179, time_range, (0.99641, 1.00357), 81, 8, 25, 14)
time_axes(m2, [0.998, 1.000, 1.002], "%.3f")
hide_xlabels(m2)
r = draw_lc(m2, t_psf, lo_psf, hi_psf, spk_t_psf, spk_f_psf, small_spk_psf, BLK_T)
add_legend(m2, "KBonus PSF", r, "top_right", text_color="#555555")

r2 = make_fig(540, 179, phase_range, (0.99865, 1.00185), 83, 5, 25, 14)
phase_axes(r2, [0.999, 1.000, 1.001], "%.3f")
hide_xlabels(r2)
draw_lc(r2, ph_psf, ph_lo_psf, ph_hi_psf, pspk_x_psf, pspk_f_psf, small_pspk_psf, BLK_P)


# ---------------- title strips ----------------
def text_fig(width, height, txt, xf, yf, align, size):
    f = figure(width=width, height=height, x_range=Range1d(0, 1), y_range=Range1d(0, 1),
               min_border=0, toolbar_location=None, tools="", output_backend="svg",
               x_axis_location=None, y_axis_location=None)
    f.outline_line_color = None
    f.xgrid.visible = False
    f.ygrid.visible = False
    f.text(x=[xf], y=[yf], text=[txt], text_align=align, text_baseline="middle",
           text_font=value(FONT), text_font_size=size, text_color="black")
    return f


gaia_fig = text_fig(1080, 25, GAIA_TITLE, 82 / 1080, 0.48, "left", "20px")
header = text_fig(1322, 44, MAIN_TITLE, 0.5, 1 - 10 / 44, "center", "20.3px")

# ---------------- row 3 ----------------
m3 = make_fig(540, 189, time_range, (0.97067, 1.0203), 81, 8, 3, 46)
time_axes(m3, [0.98, 0.99, 1.00, 1.01], "%.2f")
m3.xaxis.axis_label = "Time - 2454833 [BKJD days]"
m3.xaxis.major_label_standoff = 5
m3.xaxis.axis_label_standoff = 2
r = draw_lc(m3, t_gaia, lo_gaia, hi_gaia, spk_t_gaia, spk_f_gaia, small_spk_gaia, BLUE)
dtop = np.interp(dip_t_gaia, t_gaia, (np.asarray(lo_gaia) + np.asarray(hi_gaia)) / 2)
m3.segment(x0=dip_t_gaia, y0=dtop, x1=dip_t_gaia, y1=dip_f_gaia, line_color=BLUE, line_width=1.2)
add_legend(m3, "KBonus PSF", r, "bottom_left")

r3 = make_fig(540, 189, phase_range, (0.97245, 1.01417), 83, 5, 3, 46)
phase_axes(r3, [0.98, 0.99, 1.00, 1.01], "%.2f")
r3.xaxis.formatter = CustomJSTickFormatter(
    code="return (tick < 0 ? '\\u2212' : '') + Math.abs(tick).toFixed(1);")
r3.xaxis.axis_label = "Phase [JD]"
r3.xaxis.major_label_standoff = 5
r3.xaxis.axis_label_standoff = 2
draw_lc(r3, ph_gaia, ph_lo_gaia, ph_hi_gaia, pspk_x_gaia, pspk_f_gaia, small_pspk_gaia, BLUE)

# ---------------- TPF ----------------
tp = make_fig(250, 220, (51.5, 56.5), (30.5, 34.5), 59, 10, 28, 48, title="TPF")
tp.title.align = "center"
tp.title.text_font = FONT
tp.title.text_font_size = "19px"
tp.title.text_font_style = "normal"
tp.title.text_color = "black"
tp.title.standoff = 4
tp.xaxis.ticker = FixedTicker(ticks=[52, 54, 56])
tp.yaxis.ticker = FixedTicker(ticks=[31, 32, 33, 34])
tp.xaxis.axis_label = "Pixel Column Number"
tp.yaxis.axis_label = "Pixel Row Number"
tp.xaxis.major_label_standoff = 8
tp.xaxis.axis_label_standoff = 0
tp.yaxis.axis_label_standoff = 6
cc, rr, ff = [], [], []
for i, rw in enumerate(tpf_rows):
    for j, cl in enumerate(tpf_cols):
        cc.append(cl)
        rr.append(rw)
        ff.append(tpf_flux[i][j])
src = ColumnDataSource(dict(col=cc, row=rr, flux=ff))
cmap = log_cmap("flux", Viridis256, flux_low, flux_high)
tp.rect(x="col", y="row", width=1, height=1, source=src, fill_color=cmap,
        line_color=cmap, line_width=0.5)
tp.rect(x=aperture_cols, y=aperture_rows, width=1, height=1, fill_color=None,
        line_color="#e8202a", line_width=1.3, hatch_pattern="/", hatch_color="#e8202a",
        hatch_scale=9, hatch_weight=1)
tp.scatter(gaia_col, gaia_row, size=10, color="#3a7ec6")
tp.scatter(target_col, target_row, size=11, color="black")

# ---------------- colour bar ----------------
# same frame as the TPF panel (the column aligns frames); the bar spans flux_low..flux_high,
# centred under the image, with 18 px of empty frame on each side.
dec_px = 145.0 / (np.log10(flux_high) - np.log10(flux_low))
pad_dec = 18.0 / dec_px
cb_range = (10 ** (np.log10(flux_low) - pad_dec), 10 ** (np.log10(flux_high) + pad_dec))
cb = make_fig(250, 86, cb_range, (0, 1), 59, 10, 28, 50,
              x_axis_type="log", y_axis_location=None)
cb.outline_line_color = None
edges = np.logspace(np.log10(flux_low), np.log10(flux_high), len(Viridis256) + 1)
cb.quad(left=edges[:-1], right=edges[1:], bottom=0, top=1,
        fill_color=list(Viridis256), line_color=list(Viridis256), line_width=0.5)
cb.quad(left=[flux_low], right=[flux_high], bottom=[0], top=[1],
        fill_color=None, line_color="black", line_width=1)
cb.xaxis.axis_line_color = None
cb.xaxis.ticker = FixedTicker(ticks=cbar_major, minor_ticks=cbar_minor)
cb.xaxis.formatter = CustomJSTickFormatter(
    code="const e = Math.round(Math.log10(tick)); const s = {1: '\\u00b9', 2: '\\u00b2', 3: '\\u00b3'}; return '10' + (s[e] || e);")
cb.xaxis.minor_tick_line_color = "black"
cb.xaxis.minor_tick_in = 0
cb.xaxis.minor_tick_out = 2
cb.xaxis.axis_label = "Flux [e\u207b/s]"
cb.xaxis.axis_label_standoff = 3

# ---------------- layout ----------------
left = column(Spacer(width=250, height=188), tp, cb)
mid_right = column(row(m1, r1), row(m2, r2), gaia_fig, row(m3, r3))
layout = column(Spacer(width=1330, height=8),
                row(Spacer(width=8, height=44), header),
                row(left, mid_right))

with open("out.html", "w", encoding="utf-8") as fh:
    fh.write(file_html(layout, INLINE, title="KOI 932.01"))
